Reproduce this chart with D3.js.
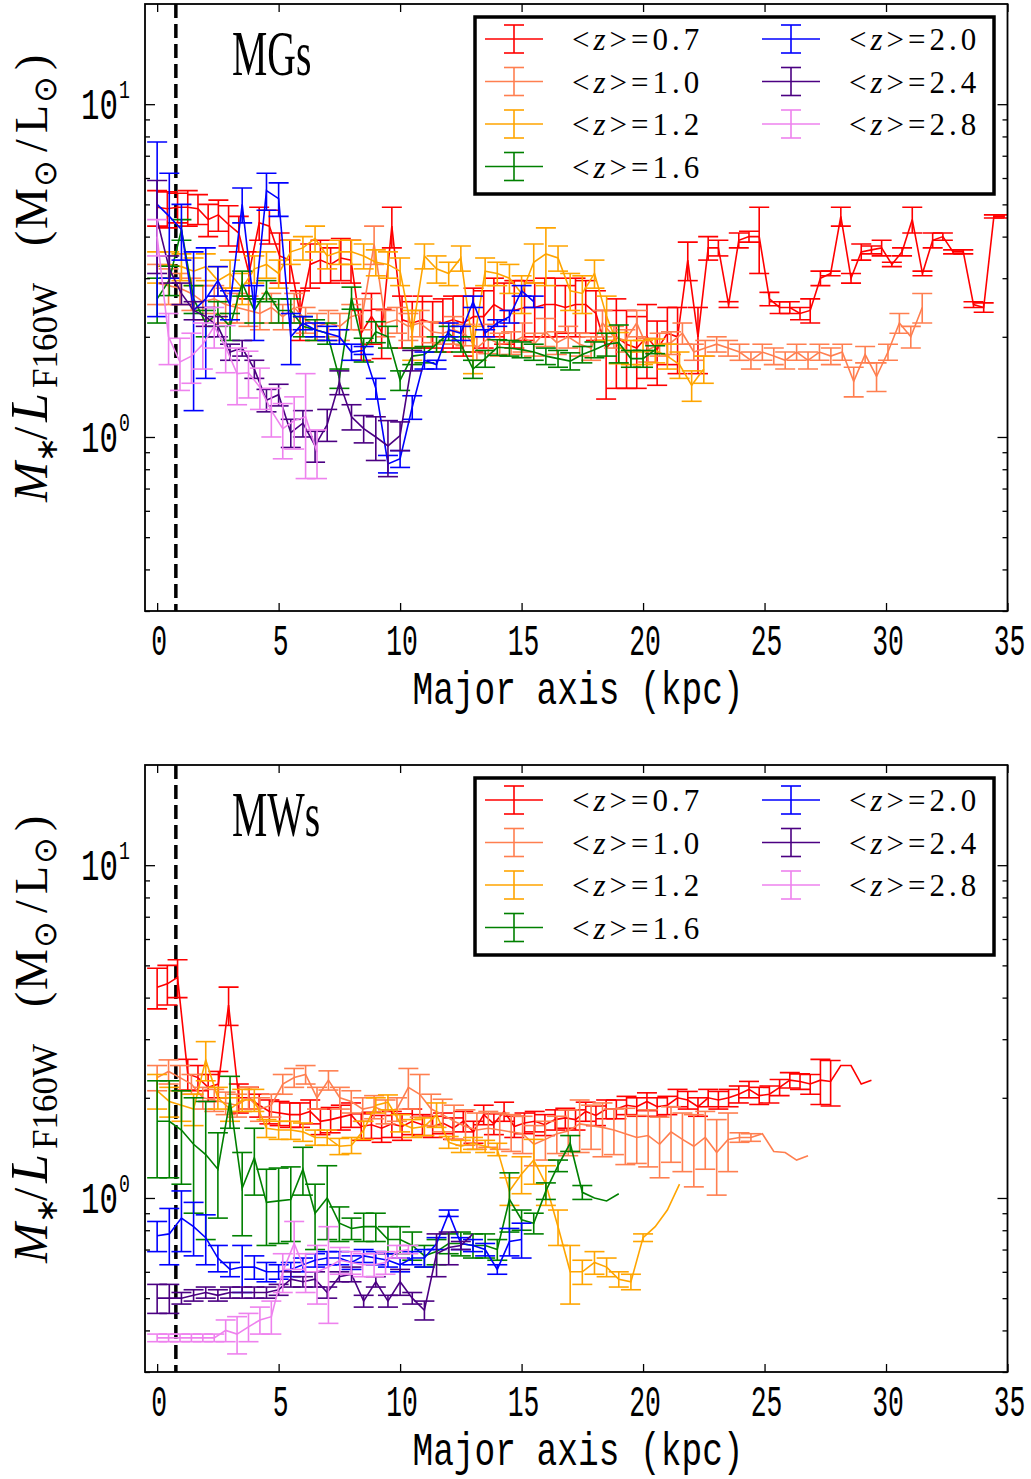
<!DOCTYPE html>
<html>
<head>
<meta charset="utf-8">
<script src="https://cdn.jsdelivr.net/npm/d3@7"></script>
<style>
  body { margin: 0; background: #fff; }
  text { fill: #000; }
</style>
</head>
<body>
<div id="chart"></div>
<script>
// radial bins (kpc) of the profiles, per redshift
const rZ07 = [0,0.42,0.84,1.26,1.68,2.1,2.52,2.94,3.36,3.78,4.2,4.62,5.04,5.46,5.88,6.3,6.72,7.14,7.56,7.98,
  8.4,8.82,9.24,9.66,10.08,10.5,10.92,11.34,11.76,12.18,12.6,13.02,13.44,13.86,14.28,14.7,15.12,15.54,15.96,16.38,
  16.8,17.22,17.64,18.06,18.48,18.9,19.32,19.74,20.16,20.58,21,21.42,21.84,22.26,22.68,23.1,23.52,23.94,24.36,24.78,
  25.2,25.62,26.04,26.46,26.88,27.3,27.72,28.14,28.56,28.98,29.4,29.82,30.24,30.66,31.08,31.5,31.92,32.34,32.76,33.18,
  33.6,34.02,34.44,34.86];
const rZ10 = [0,0.47,0.94,1.41,1.88,2.35,2.82,3.29,3.76,4.23,4.7,5.17,5.64,6.11,6.58,7.05,7.52,7.99,8.46,8.93,
  9.4,9.87,10.34,10.81,11.28,11.75,12.22,12.69,13.16,13.63,14.1,14.57,15.04,15.51,15.98,16.45,16.92,17.39,17.86,18.33,
  18.8,19.27,19.74,20.21,20.68,21.15,21.62,22.09,22.56,23.03,23.5,23.97,24.44,24.91,25.38,25.85,26.32,26.79,27.26,27.73,
  28.2,28.67,29.14,29.61,30.08,30.55,31.02,31.49];
const rHalf = [0,0.5,1,1.5,2,2.5,3,3.5,4,4.5,5,5.5,6,6.5,7,7.5,8,8.5,9,9.5,10,10.5,11,11.5,12,12.5,13,13.5,
  14,14.5,15,15.5,16,16.5,17,17.5,18,18.5,19,19.5,20,20.5,21,21.5,22,22.5,23];

const zLabels = ["0.7", "1.0", "1.2", "1.6", "2.0", "2.4", "2.8"];
const zColors = ["#ff0000", "#ff7f50", "#ffa500", "#008000", "#0000ff", "#4b0082", "#ee82ee"];
const xTicks = [0, 5, 10, 15, 20, 25, 30, 35];

// ---- MGs: M*/L profiles and errors ----
const mgZ07 = [4.9,4.85,4.9,4.9,4.85,4.5,4.65,4.35,4.1,3.1, 4.4,4.3,3.5,3.4,2.35,3.3,3.4,3.3,3.45,3.4,
  2.05,2.3,2.07,4.3,2.25,2.2,2.25,2.2,2.2,2.25, 2.2,2.3,2.3,2.5,2.4,2.4,2.45,2.45,2.5,2.5,
  2.45,2.5,2.5,2.35,1.85,2.0,1.9,1.85,2.0,1.83, 2.05,2.0,3.4,2.0,3.7,3.7,2.5,3.9,4.0,4.0,
  2.6,2.45,2.45,2.35,2.4,3.0,3.1,4.6,3.0,3.6, 3.65,3.7,3.3,3.6,4.5,3.1,3.9,4.0,3.6,3.6, 2.5,2.45,4.6,4.6];
const mgZ07err = [0.6,0.6,0.5,0.6,0.5,0.5,0.5,0.6,0.5,0.5, 0.5,0.5,0.6,0.5,0.4,0.5,0.5,0.4,0.5,0.5,
  0.35,0.4,0.35,0.6,0.4,0.35,0.4,0.35,0.4,0.4, 0.45,0.5,0.45,0.5,0.5,0.55,0.5,0.45,0.5,0.5,
  0.4,0.5,0.45,0.4,0.55,0.6,0.5,0.45,0.5,0.4, 0.4,0.45,0.45,0.45,0.3,0.2,0.05,0.2,0.15,0.9,
  0.12,0.1,0.1,0.1,0.2,0.15,0.05,0.3,0.1,0.2, 0.1,0.2,0.05,0.1,0.4,0.05,0.2,0.1,0.05,0.05, 0.05,0.08,0.05,0.05];
const mgZ10 = [2.9,2.85,2.8,2.7,2.55,2.6,2.5,2.45,2.4,2.35, 2.45,2.3,2.45,2.25,2.15,2.2,2.15,2.3,2.35,3.8,
  2.2,2.25,2.15,2.2,2.07,2.05,2.1,2.03,1.85,1.98, 1.9,1.92,2.0,1.9,2.07,1.92,2.0,1.9,1.85,2.2,
  2.0,1.95,2.2,1.83,1.9,1.92,2.05,1.8,1.85,1.9, 1.85,1.8,1.7,1.8,1.75,1.7,1.8,1.7,1.8,1.75,
  1.8,1.47,1.77,1.52,1.8,2.2,2.0,2.45];
const mgZ10err = [0.4,0.35,0.3,0.3,0.3,0.25,0.3,0.25,0.25,0.25, 0.25,0.2,0.25,0.2,0.2,0.2,0.2,0.2,0.25,0.5,
  0.2,0.2,0.2,0.2,0.15,0.15,0.2,0.15,0.15,0.2, 0.15,0.15,0.2,0.15,0.2,0.15,0.15,0.15,0.15,0.2,
  0.15,0.15,0.2,0.15,0.15,0.15,0.15,0.1,0.1,0.1, 0.1,0.1,0.1,0.1,0.1,0.1,0.1,0.1,0.1,0.1,
  0.1,0.15,0.1,0.15,0.1,0.15,0.15,0.25];
const mgZ12 = [3.25,3.3,3.25,3.15,3.25,2.95,3.1,2.8,3.2,3.3, 3.1,3.6,3.7,3.95,3.5,3.6,3.6,3.5,3.35,3.3,
  3.15,2.05,3.5,3.2,3.1,3.45,1.85,3.15,3.1,3.0, 2.7,3.35,3.55,3.45,2.75,2.7,3.1,2.3,1.86,1.8,
  1.8,1.82,1.75,1.65,1.43,1.6];
const mgZ12err = [0.35,0.3,0.3,0.3,0.3,0.3,0.3,0.3,0.3,0.3, 0.3,0.3,0.3,0.35,0.3,0.3,0.3,0.3,0.3,0.3,
  0.3,0.35,0.3,0.3,0.25,0.3,0.3,0.3,0.25,0.3, 0.35,0.45,0.7,0.3,0.35,0.35,0.3,0.35,0.2,0.15,
  0.15,0.15,0.15,0.15,0.15,0.15];
const mgZ16 = [2.6,2.96,4.2,2.6,2.2,2.35,2.15,2.9,2.4,2.75, 2.4,2.4,2.15,2.1,2.05,1.5,2.62,1.83,2.07,2.0,
  1.48,1.75,1.77,1.9,2.05,1.9,1.6,1.72,1.86,1.85, 1.83,1.8,1.75,1.72,1.69,1.77,1.83,1.9,1.92,1.72, 1.72,1.83];
const mgZ16err = [0.4,0.3,0.3,0.25,0.2,0.2,0.2,0.25,0.2,0.2, 0.2,0.2,0.15,0.15,0.15,0.1,0.2,0.15,0.15,0.15,
  0.1,0.1,0.1,0.1,0.1,0.1,0.1,0.1,0.1,0.1, 0.1,0.1,0.1,0.1,0.1,0.1,0.1,0.15,0.25,0.1, 0.1,0.05];
const mgZ20 = [5.0,4.6,4.2,2.4,2.6,2.95,2.5,5.0,2.4,5.5, 5.2,2.0,2.2,2.1,2.05,2.0,1.8,1.82,1.4,0.83,
  0.86,1.23,1.7,1.65,2.1,2.05,2.55,2.05,2.2,2.3, 2.75,2.55];
const mgZ20err = [2.7,1.6,0.8,1.2,1.1,0.3,0.25,0.6,0.45,0.7, 0.6,0.35,0.1,0.1,0.1,0.1,0.1,0.05,0.1,0.05,
  0.05,0.1,0.1,0.05,0.1,0.1,0.1,0.05,0.05,0.1, 0.1,0.1];
const mgZ24 = [4.5,3.2,2.7,2.4,2.3,2.15,1.8,1.85,1.6,1.29, 1.34,1.03,1.1,0.94,1.09,1.46,1.15,1.06,1.0,0.94, 1.01,1.7];
const mgZ24err = [1.4,0.3,0.2,0.15,0.15,0.15,0.1,0.1,0.1,0.1, 0.1,0.1,0.1,0.1,0.12,0.12,0.1,0.1,0.15,0.18, 0.1,0.12];
const mgZ28 = [4.0,2.0,1.68,1.75,1.9,2.15,1.86,1.55,1.56,1.41, 1.2,1.06,1.12,1.15,0.9];
const mgZ28err = [0.5,0.35,0.3,0.3,0.3,0.3,0.3,0.3,0.25,0.2, 0.2,0.2,0.2,0.4,0.15];

// ---- MWs ----
const mwZ07 = [4.3,4.4,4.6,2.36,2.3,2.15,2.2,3.8,2.0,2.0, 1.9,1.82,1.8,1.78,1.78,1.82,1.7,1.72,1.75,1.78,
  1.64,1.66,1.62,1.67,1.64,1.7,1.66,1.64,1.68,1.62, 1.7,1.58,1.78,1.67,1.82,1.64,1.68,1.7,1.66,1.72,
  1.74,1.72,1.82,1.77,1.85,1.85,1.9,1.88,1.95,1.88, 1.9,2.0,1.97,1.88,2.0,1.97,2.0,2.05,2.12,2.03,
  2.05,2.15,2.26,2.24,2.2,2.26,2.24,2.5,2.5,2.2, 2.26];
const mwZ07err = [0.6,0.6,0.6,0.25,0.2,0.2,0.2,0.5,0.2,0.15, 0.15,0.15,0.15,0.15,0.15,0.15,0.15,0.15,0.15,0.15,
  0.15,0.15,0.15,0.15,0.15,0.15,0.12,0.12,0.12,0.12, 0.12,0.12,0.12,0.12,0.12,0.12,0.12,0.12,0.12,0.12,
  0.12,0.12,0.12,0.12,0.12,0.12,0.12,0.12,0.12,0.12, 0.12,0.12,0.12,0.12,0.12,0.12,0.12,0.12,0.12,0.12,
  0.12,0.12,0.12,0.12,0.15,0.35,0.35,0,0,0, 0];
const mwZ10 = [2.3,2.4,2.3,2.2,2.0,1.97,1.93,1.9,2.0,1.85, 1.9,2.2,2.3,2.35,2.0,2.26,2.0,1.95,1.85,1.88,
  1.82,1.85,2.15,2.05,1.85,1.78,1.7,1.64,1.6,1.62, 1.6,1.58,1.56,1.45,1.5,1.56,1.59,1.67,1.65,1.63,
  1.6,1.56,1.52,1.54,1.45,1.58,1.5,1.43,1.52,1.37, 1.5,1.52,1.52,1.56,1.38,1.37,1.3,1.34];
const mwZ10err = [0.2,0.2,0.2,0.15,0.15,0.15,0.15,0.15,0.15,0.15, 0.15,0.15,0.15,0.15,0.15,0.15,0.15,0.15,0.15,0.15,
  0.15,0.15,0.3,0.3,0.2,0.2,0.2,0.2,0.2,0.2, 0.2,0.2,0.2,0.2,0.2,0.2,0.25,0.3,0.25,0.3,
  0.25,0.3,0.25,0.3,0.3,0.3,0.3,0.35,0.3,0.35, 0.3,0.05,0.04,0,0,0,0,0];
const mwZ12 = [2.1,1.95,1.9,1.85,2.6,2.0,1.85,1.97,1.97,1.62, 1.6,1.6,1.58,1.52,1.52,1.43,1.44,1.6,1.9,1.94,
  1.68,1.62,1.64,1.78,1.47,1.43,1.46,1.43,1.4,1.05, 1.18,1.3,1.1,0.82,0.6,0.6,0.64,0.62,0.57,0.56,
  0.76,0.82,0.92,1.1];
const mwZ12err = [0.25,0.2,0.2,0.2,0.35,0.15,0.15,0.15,0.15,0.1, 0.1,0.1,0.1,0.08,0.08,0.08,0.08,0.1,0.1,0.1,
  0.1,0.1,0.1,0.15,0.06,0.06,0.06,0.06,0.06,0.1, 0.15,0.2,0.15,0.1,0.12,0.05,0.05,0.04,0.03,0.03,
  0.02,0,0,0];
const mwZ16 = [1.7,1.7,1.6,1.45,1.35,1.22,1.97,1.07,1.32,0.97, 0.98,0.99,1.22,0.9,1.0,0.84,0.81,0.82,0.82,0.75,
  0.75,0.72,0.67,0.69,0.73,0.73,0.72,0.72,0.7,0.99, 0.86,0.84,1.05,1.25,1.46,1.04,1.0,0.98,1.03];
const mwZ16err = [0.55,0.55,0.5,0.55,0.6,0.35,0.35,0.3,0.3,0.25, 0.25,0.25,0.2,0.2,0.25,0.1,0.06,0.08,0.08,0.07,
  0.07,0.07,0.05,0.06,0.05,0.06,0.06,0.06,0.05,0.2, 0.06,0.06,0.06,0.05,0.08,0.05,0,0,0];
const mwZ20 = [0.77,0.78,0.87,0.82,0.76,0.66,0.61,0.62,0.62,0.6, 0.6,0.61,0.63,0.65,0.66,0.66,0.64,0.67,0.66,0.65,
  0.63,0.66,0.66,0.73,0.9,0.73,0.72,0.7,0.61,0.74, 0.75];
const mwZ20err = [0.08,0.15,0.18,0.15,0.13,0.06,0.03,0.1,0.05,0.04, 0.03,0.03,0.03,0.03,0.03,0.03,0.03,0.03,0.03,0.03,
  0.03,0.03,0.04,0.03,0.02,0.03,0.03,0.03,0.02,0.07, 0.09];
const mwZ24 = [0.5,0.5,0.5,0.51,0.52,0.51,0.52,0.52,0.52,0.52, 0.53,0.57,0.56,0.57,0.52,0.58,0.59,0.49,0.56,0.49,
  0.56,0.5,0.46,0.68,0.71,0.72,0.78];
const mwZ24err = [0.05,0.05,0.02,0.02,0.02,0.02,0.02,0.02,0.02,0.02, 0.02,0.03,0.02,0.03,0.02,0.02,0.03,0.02,0.02,0.02,
  0.05,0.02,0.03,0.1,0.08,0.02,0];
const mwZ28 = [0.38,0.38,0.38,0.38,0.38,0.38,0.4,0.39,0.41,0.43, 0.44,0.6,0.73,0.6,0.6,0.62,0.65,0.64,0.63,0.63,
  0.64,0.69,0.7];
const mwZ28err = [0.01,0.01,0.01,0.01,0.01,0.01,0.03,0.05,0.04,0.04, 0.05,0.08,0.12,0.08,0.12,0.2,0.06,0.05,0.05,0.05,
  0.05,0.03,0.02];

const panels = [
  {name: "MGs", top: 4, sets: [[rZ07, mgZ07, mgZ07err], [rZ10, mgZ10, mgZ10err], [rHalf, mgZ12, mgZ12err],
    [rHalf, mgZ16, mgZ16err], [rHalf, mgZ20, mgZ20err], [rHalf, mgZ24, mgZ24err], [rZ10, mgZ28, mgZ28err]]},
  {name: "MWs", top: 765, sets: [[rZ07, mwZ07, mwZ07err], [rZ10, mwZ10, mwZ10err], [rHalf, mwZ12, mwZ12err],
    [rHalf, mwZ16, mwZ16err], [rHalf, mwZ20, mwZ20err], [rHalf, mwZ24, mwZ24err], [rZ10, mwZ28, mwZ28err]]}
];

const W = 1031, H = 1479;
const plotL = 145, plotR = 1007.5, plotH = 607;
const svg = d3.select("#chart").append("svg").attr("width", W).attr("height", H);

const x = d3.scaleLinear().domain([-0.5, 35]).range([plotL, plotR]);

panels.forEach(function(p) {
  const y = d3.scaleLog().domain([0.3, 20]).range([p.top + plotH, p.top]);
  const off = p.top - 4;

  svg.append("clipPath").attr("id", "clip" + p.name)
    .append("rect").attr("x", plotL).attr("y", p.top).attr("width", plotR - plotL).attr("height", plotH);
  const plot = svg.append("g").attr("clip-path", `url(#clip${p.name})`);

  // dashed PSF line
  plot.append("line")
    .attr("x1", x(0.77)).attr("x2", x(0.77))
    .attr("y1", p.top).attr("y2", p.top + plotH)
    .attr("stroke", "#000").attr("stroke-width", 3.5).attr("stroke-dasharray", "14,6");

  // profiles with error bars
  p.sets.forEach(function(s, k) {
    const pts = s[1].map((v, i) => ({r: s[0][i], v: v, e: s[2][i]}));
    const sg = plot.append("g").attr("stroke", zColors[k]).attr("stroke-width", 1.6).attr("fill", "none");
    sg.append("path").attr("d", d3.line().x(d => x(d.r)).y(d => y(d.v))(pts));
    const bars = pts.filter(d => d.e > 0);
    const eb = sg.selectAll(null).data(bars).enter().append("g");
    eb.append("line")
      .attr("x1", d => x(d.r)).attr("x2", d => x(d.r))
      .attr("y1", d => y(Math.max(d.v - d.e, 0.05))).attr("y2", d => y(d.v + d.e));
    eb.append("line")
      .attr("x1", d => x(d.r) - 10).attr("x2", d => x(d.r) + 10)
      .attr("y1", d => y(d.v + d.e)).attr("y2", d => y(d.v + d.e));
    eb.append("line")
      .attr("x1", d => x(d.r) - 10).attr("x2", d => x(d.r) + 10)
      .attr("y1", d => y(Math.max(d.v - d.e, 0.05))).attr("y2", d => y(Math.max(d.v - d.e, 0.05)));
  });

  // axes (inward ticks on all sides)
  const minor = [0.3,0.4,0.5,0.6,0.7,0.8,0.9,2,3,4,5,6,7,8,9];
  const major = [1, 10];
  const axes = svg.append("g").attr("class", "axes");
  axes.append("g").attr("transform", `translate(0,${p.top + plotH})`)
    .call(d3.axisBottom(x).tickValues(xTicks).tickSize(-8).tickFormat(""));
  axes.append("g").attr("transform", `translate(0,${p.top})`)
    .call(d3.axisTop(x).tickValues(xTicks).tickSize(-8).tickFormat(""));
  axes.append("g").attr("transform", `translate(${plotL},0)`)
    .call(d3.axisLeft(y).tickValues(major).tickSize(-10).tickFormat(""));
  axes.append("g").attr("transform", `translate(${plotL},0)`)
    .call(d3.axisLeft(y).tickValues(minor).tickSize(-5).tickFormat(""));
  axes.append("g").attr("transform", `translate(${plotR},0)`)
    .call(d3.axisRight(y).tickValues(major).tickSize(-10).tickFormat(""));
  axes.append("g").attr("transform", `translate(${plotR},0)`)
    .call(d3.axisRight(y).tickValues(minor).tickSize(-5).tickFormat(""));
  axes.selectAll(".domain").remove();
  axes.selectAll(".tick line").attr("stroke", "#000").attr("stroke-width", 1.3);

  svg.append("rect").attr("x", plotL).attr("y", p.top).attr("width", plotR - plotL).attr("height", plotH)
    .attr("fill", "none").attr("stroke", "#000").attr("stroke-width", 1.8);

  // x tick labels
  xTicks.forEach(function(t) {
    svg.append("g").attr("transform", `translate(${x(t) + 2},${p.top + 651}) scale(0.6,1)`)
      .append("text").attr("text-anchor", "middle")
      .style("font-family", "Liberation Mono").style("font-size", "44px").text(t);
  });
  svg.append("g").attr("transform", `translate(578,${p.top + 700}) scale(0.75,1)`)
    .append("text").attr("text-anchor", "middle")
    .style("font-family", "Liberation Mono").style("font-size", "46px").text("Major axis (kpc)");

  // y tick labels 10^0, 10^1
  [[10, "1"], [1, "0"]].forEach(function(m) {
    const yy = y(m[0]);
    svg.append("g").attr("transform", `translate(118,${yy + 15}) scale(0.7,1)`)
      .append("text").attr("text-anchor", "end")
      .style("font-family", "Liberation Mono").style("font-size", "44px").text("10");
    svg.append("g").attr("transform", `translate(119,${yy - 6}) scale(0.7,1)`)
      .append("text").attr("text-anchor", "start")
      .style("font-family", "Liberation Mono").style("font-size", "26px").text(m[1]);
  });

  // y axis label (rotated)
  const yl = svg.append("g").attr("transform", `translate(47,${off}) rotate(-90)`)
    .style("font-family", "Liberation Serif");
  const piece = (t, u, size, txt, italic) => yl.append("text").attr("x", t).attr("y", u)
    .style("font-size", size + "px").style("font-style", italic ? "italic" : "normal").text(txt);
  piece(-502, 0, 48, "M", true);
  piece(-462, 10, 30, "∗", false);
  piece(-440, 0, 48, "/", false);
  piece(-422, 0, 52, "L", true);
  piece(-388, 10, 35, "F160W", false);
  piece(-246, 0, 46, "(", false);
  piece(-229, 0, 46, "M", false);
  piece(-187, 9, 32, "⊙", false);
  piece(-152, 0, 46, "/", false);
  piece(-133, 0, 46, "L", false);
  piece(-103, 9, 32, "⊙", false);
  piece(-70, 0, 46, ")", false);

  // panel name
  svg.append("g").attr("transform", `translate(232,${p.top + 71}) scale(0.62,1)`)
    .append("text").style("font-family", "Liberation Serif").style("font-size", "64px").text(p.name);

  // legend
  const lg = svg.append("g");
  lg.append("rect").attr("x", 475).attr("y", p.top + 13).attr("width", 519).attr("height", 177)
    .attr("fill", "#fff").attr("stroke", "#000").attr("stroke-width", 3.5);
  zLabels.forEach(function(z, k) {
    const col = k < 4 ? 0 : 1, row = k < 4 ? k : k - 4;
    const lx = 485 + col * 277, ly = p.top + 35 + row * 42.5;
    const g = lg.append("g").attr("stroke", zColors[k]).attr("stroke-width", 1.6);
    g.append("line").attr("x1", lx).attr("x2", lx + 58).attr("y1", ly).attr("y2", ly);
    g.append("line").attr("x1", lx + 29).attr("x2", lx + 29).attr("y1", ly - 14).attr("y2", ly + 14);
    g.append("line").attr("x1", lx + 19).attr("x2", lx + 39).attr("y1", ly - 14).attr("y2", ly - 14);
    g.append("line").attr("x1", lx + 19).attr("x2", lx + 39).attr("y1", ly + 14).attr("y2", ly + 14);
    const tx = lg.append("text").attr("x", lx + 87).attr("y", ly + 11)
      .style("font-family", "Liberation Serif").style("font-size", "31px").style("letter-spacing", "4px");
    tx.append("tspan").text("<");
    tx.append("tspan").style("font-style", "italic").text("z");
    tx.append("tspan").text(">=" + z);
  });
});
</script>
</body>
</html>
